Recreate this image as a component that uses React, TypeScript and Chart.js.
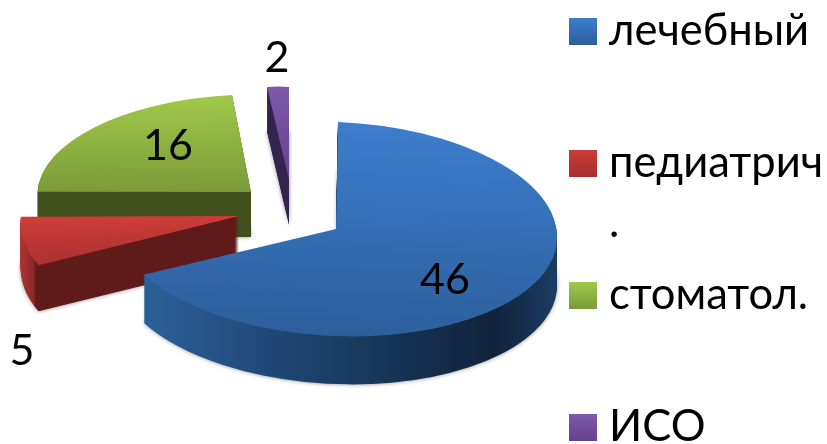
import React, { useEffect, useRef } from "react";
import { Chart, registerables } from "chart.js";

Chart.register(...registerables);

const categories = ["лечебный", "педиатрич\n.", "стоматол.", "ИСО"];
const values = [46, 5, 16, 2];
const seriesColors = ["#3570b5", "#b93534", "#8cb03f", "#704d9c"];

// top-face gradients (top, bottom)
const topStops = [
  ["#3c7dcd", "#2d5e9b"],
  ["#cc3c38", "#a62f2f"],
  ["#a0c94a", "#7a9a38"],
  ["#7f58aa", "#65428e"],
];
// side-wall gradients (left to right)
const wallStops: [number, string][][] = [
  [[0, "#2b5f97"], [0.3, "#1f4674"], [0.62, "#14304f"], [0.82, "#11233c"], [1, "#1d3f66"]],
  [[0, "#b03434"], [0.08, "#8c2828"], [0.09, "#5f1a1a"], [1, "#5f1a1a"]],
  [[0, "#414f1c"], [1, "#414f1c"]],
  [[0, "#33244f"], [1, "#33244f"]],
];
// 3-D projection of each exploded piece: origin x, y, then matrix a, b, c, d
const pieces = [
  [336, 229, 221, -2, 9, 107],
  [239, 216, 217, -25, 6.7, 110],
  [251, 192, 212.6, -20, 6.8, 97.4],
  [289, 180, 121, 0, 8.8, 93],
];
const pieceBounds = [
  [123, 337, 140, 557],
  [217, 265, 21, 239],
  [95, 192, 37, 251],
  [87, 180, 267, 289],
];
const depths = [48, 46, 45, 45];
const drawOrder = [3, 2, 1, 0];
const valueLabelPos = [
  [445, 294],
  [22, 365],
  [168, 160],
  [277, 72],
];
const FONT = '"Lato", "Noto Sans", sans-serif';
const legendBaselines = [45, 177, 309, 441];
const legendLineHeight = 60;

function localGradient(ctx: CanvasRenderingContext2D, p: number[], cx: number, cy: number, R: number, s0: number[], s1: number[], stops: [number, string][]) {
  const [ox, oy, a, b, c, d] = p;
  const det = (a * d - b * c) / (R * R);
  const toLocal = (s: number[]) => {
    const dx = s[0] - ox, dy = s[1] - oy;
    return [cx + ((d / R) * dx - (b / R) * dy) / det, cy + ((-c / R) * dx + (a / R) * dy) / det];
  };
  const l0 = toLocal(s0), l1 = toLocal(s1);
  const g = ctx.createLinearGradient(l0[0], l0[1], l1[0], l1[1]);
  stops.forEach(([t, col]) => g.addColorStop(t, col));
  return g;
}

const pie3d = {
  id: "pie3d",
  beforeDatasetsDraw(chart: any) {
    const ctx: CanvasRenderingContext2D = chart.ctx;
    const arcs = chart.getDatasetMeta(0).data;
    for (const i of drawOrder) {
      const arc = arcs[i];
      const p = pieces[i];
      const R = arc.outerRadius;
      const [yTop, yBot, xL, xR] = pieceBounds[i];
      const paint = (dy: number, fill: any, shadow: boolean) => {
        ctx.save();
        if (shadow) {
          ctx.shadowColor = "rgba(0,0,0,0.45)";
          ctx.shadowBlur = 4;
        }
        ctx.translate(p[0], p[1] + dy);
        ctx.transform(p[2] / R, p[4] / R, p[3] / R, p[5] / R, 0, 0);
        ctx.translate(-arc.x, -arc.y);
        const saved = arc.options;
        arc.options = { ...saved, backgroundColor: fill, borderWidth: 0 };
        arc.draw(ctx);
        arc.options = saved;
        ctx.restore();
      };
      const wall = localGradient(ctx, p, arc.x, arc.y, R, [xL, p[1]], [xR, p[1]], wallStops[i]);
      for (let dy = depths[i]; dy >= 1; dy--) paint(dy, wall, dy === depths[i]);
      const top = localGradient(ctx, p, arc.x, arc.y, R, [p[0], yTop], [p[0], yBot], [
        [0, topStops[i][0]],
        [1, topStops[i][1]],
      ]);
      paint(0, top, false);
    }
    // value labels
    ctx.save();
    ctx.fillStyle = "#000";
    ctx.font = `43px ${FONT}`;
    ctx.textAlign = "center";
    ctx.textBaseline = "alphabetic";
    values.forEach((v, i) => ctx.fillText(String(v), valueLabelPos[i][0], valueLabelPos[i][1]));
    ctx.restore();
    return false;
  },
  afterDraw(chart: any) {
    const ctx: CanvasRenderingContext2D = chart.ctx;
    ctx.save();
    categories.forEach((label, i) => {
      const base = legendBaselines[i];
      const g = ctx.createLinearGradient(0, base - 27, 0, base);
      g.addColorStop(0, topStops[i][0]);
      g.addColorStop(1, topStops[i][1]);
      ctx.fillStyle = g;
      ctx.fillRect(569, base - 27, 28, 27);
      ctx.fillStyle = "#000";
      ctx.font = `43.5px ${FONT}`;
      ctx.textAlign = "left";
      ctx.textBaseline = "alphabetic";
      label.split("\n").forEach((line, k) => ctx.fillText(line, 609, base + k * legendLineHeight));
    });
    ctx.restore();
  },
};

export default function App() {
  const ref = useRef<HTMLCanvasElement>(null);
  useEffect(() => {
    document.body.style.margin = "0";
    document.body.style.background = "#fff";
    const chart = new Chart(ref.current as HTMLCanvasElement, {
      type: "pie",
      data: {
        labels: categories,
        datasets: [{ data: values, backgroundColor: seriesColors, borderWidth: 0 }],
      },
      options: {
        responsive: false,
        animation: false,
        plugins: { legend: { display: false }, tooltip: { enabled: false } },
      },
      plugins: [pie3d],
    } as any);
    return () => chart.destroy();
  }, []);
  return <canvas ref={ref} width={827} height={444} style={{ display: "block" }} />;
}
